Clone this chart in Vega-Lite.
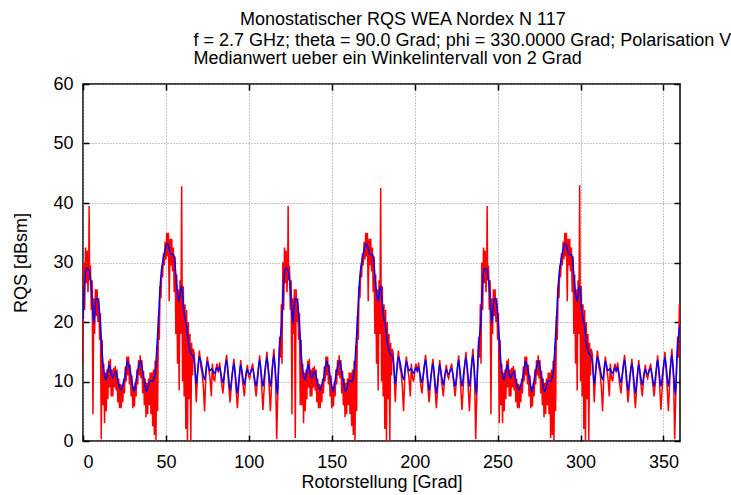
{
  "$schema": "https://vega.github.io/schema/vega-lite/v6.json",
  "width": 597,
  "height": 357,
  "autosize": {"type": "none"},
  "padding": {"left": 83, "top": 84, "right": 51, "bottom": 54},
  "background": "white",
  "config": {
    "view": {"stroke": "black", "strokeWidth": 1.5},
    "font": "Liberation Sans"
  },
  "title": {
    "text": "Monostatischer RQS WEA Nordex  N 117",
    "anchor": "start",
    "align": "left",
    "frame": "group",
    "dx": 157,
    "fontSize": 18,
    "fontWeight": "normal",
    "offset": 2,
    "color": "black",
    "font": "Liberation Sans"
  },
  "datasets": {
    "raw": [
      {"a":0,"v":13},{"a":0.5,"v":30},{"a":1,"v":22},{"a":1.5,"v":32.5},{"a":2,"v":26.5},{"a":2.5,"v":32},{"a":3,"v":25},{"a":3.5,"v":30.5},{"a":3.7,"v":39.5},{"a":4,"v":27},{"a":4.5,"v":29.5},{"a":5,"v":22},{"a":5.5,"v":27},{"a":6,"v":4.5},{"a":6.5,"v":24},{"a":7,"v":18},{"a":7.5,"v":25.5},{"a":8,"v":21},{"a":8.5,"v":25.5},{"a":9,"v":20},{"a":9.5,"v":24},{"a":10,"v":17},{"a":10.5,"v":21.5},{"a":11,"v":0.3},{"a":11.5,"v":17},{"a":12,"v":6},{"a":12.5,"v":13},{"a":13,"v":3},{"a":13.5,"v":11.5},{"a":14,"v":5},{"a":14.5,"v":12},{"a":15,"v":7},{"a":15.5,"v":13.5},{"a":16,"v":9},{"a":16.5,"v":13.8},{"a":17,"v":7.5},{"a":17.5,"v":12},{"a":18,"v":7.5},{"a":18.5,"v":12.3},{"a":19,"v":9},{"a":19.5,"v":12.6},{"a":20,"v":8.5},{"a":20.5,"v":12},{"a":21,"v":6.5},{"a":21.5,"v":10.5},{"a":22,"v":5.5},{"a":22.5,"v":9.6},{"a":23,"v":5.5},{"a":23.5,"v":9.5},{"a":24,"v":6.5},{"a":24.5,"v":10.5},{"a":25,"v":8},{"a":25.5,"v":12.5},{"a":26,"v":10},{"a":26.5,"v":14.2},{"a":27,"v":11},{"a":27.5,"v":14.2},{"a":28,"v":9.5},{"a":28.5,"v":12.8},{"a":29,"v":7.5},{"a":29.5,"v":11},{"a":30,"v":5.5},{"a":30.5,"v":9.2},{"a":31,"v":5.8},{"a":31.5,"v":9.8},{"a":32,"v":7.5},{"a":32.5,"v":12},{"a":33,"v":9.5},{"a":33.5,"v":13.6},{"a":34,"v":11},{"a":34.5,"v":14.4},{"a":35,"v":10.5},{"a":35.5,"v":13.6},{"a":36,"v":8},{"a":36.5,"v":11.8},{"a":37,"v":6},{"a":37.5,"v":10.5},{"a":38,"v":4},{"a":38.5,"v":9.8},{"a":39,"v":4.5},{"a":39.5,"v":10.5},{"a":40,"v":6},{"a":40.5,"v":11.5},{"a":41,"v":4.5},{"a":41.5,"v":11.5},{"a":42,"v":2.5},{"a":42.5,"v":12},{"a":43,"v":1},{"a":43.5,"v":13.5},{"a":44,"v":0},{"a":44.5,"v":16},{"a":45,"v":5},{"a":45.5,"v":21},{"a":46,"v":17},{"a":46.5,"v":26},{"a":47,"v":24},{"a":47.5,"v":29.5},{"a":48,"v":27.5},{"a":48.5,"v":31.5},{"a":49,"v":29.5},{"a":49.5,"v":33.5},{"a":50,"v":30.5},{"a":50.5,"v":35},{"a":51,"v":31},{"a":51.5,"v":35},{"a":52,"v":23.5},{"a":52.5,"v":34},{"a":53,"v":29.5},{"a":53.5,"v":34},{"a":54,"v":28.5},{"a":54.5,"v":32.5},{"a":55,"v":25},{"a":55.5,"v":31},{"a":56,"v":18},{"a":56.5,"v":28},{"a":57,"v":13},{"a":57.5,"v":25.5},{"a":58,"v":8.5},{"a":58.5,"v":27},{"a":59,"v":18},{"a":59.5,"v":42.8},{"a":60,"v":10},{"a":60.5,"v":26},{"a":61,"v":7.5},{"a":61.5,"v":23},{"a":62,"v":2},{"a":62.5,"v":22},{"a":63,"v":0},{"a":63.5,"v":20},{"a":64,"v":7},{"a":64.5,"v":18},{"a":65,"v":0},{"a":65.5,"v":16.5},{"a":66,"v":11},{"a":66.5,"v":15.5},{"a":67.1,"v":14.6},{"a":67.7,"v":11},{"a":68.3,"v":6.5},{"a":69.2,"v":12},{"a":70.2,"v":15.2},{"a":71,"v":12.5},{"a":71.8,"v":11.5},{"a":72.6,"v":9},{"a":73.3,"v":5},{"a":74.2,"v":12},{"a":75,"v":14.2},{"a":75.8,"v":12},{"a":76.5,"v":10.8},{"a":77.4,"v":7.5},{"a":78,"v":13},{"a":78.7,"v":10.5},{"a":79.4,"v":10},{"a":80.1,"v":12},{"a":80.8,"v":13},{"a":81.6,"v":11.5},{"a":82.4,"v":13.2},{"a":83.4,"v":10},{"a":84.4,"v":8},{"a":85.5,"v":12},{"a":86.6,"v":14.5},{"a":87.7,"v":10},{"a":88.7,"v":6.5},{"a":89.9,"v":11},{"a":91,"v":13.8},{"a":92.1,"v":9.5},{"a":93.1,"v":5.5},{"a":94.1,"v":10},{"a":95.1,"v":13.6},{"a":96.2,"v":10},{"a":97.3,"v":7.5},{"a":98.2,"v":11},{"a":99.1,"v":12.8},{"a":99.8,"v":11},{"a":100.5,"v":10.5},{"a":101.4,"v":12},{"a":102.3,"v":13},{"a":103.4,"v":10},{"a":104.4,"v":7.5},{"a":105.5,"v":11},{"a":106.5,"v":14.4},{"a":107.5,"v":10.5},{"a":108.5,"v":5.2},{"a":109.7,"v":11},{"a":110.9,"v":15},{"a":112,"v":10.5},{"a":113,"v":5},{"a":114.1,"v":12},{"a":115.1,"v":15.5},{"a":116.2,"v":10},{"a":116.8,"v":0.3},{"a":117.3,"v":6},{"a":117.9,"v":12},{"a":118.6,"v":17.5},{"a":119.2,"v":14},{"a":119.6,"v":23},
      {"a":120,"v":13},{"a":120.5,"v":30},{"a":121,"v":22},{"a":121.5,"v":32.5},{"a":122,"v":26.5},{"a":122.5,"v":32},{"a":123,"v":25},{"a":123.5,"v":30.5},{"a":123.7,"v":39.5},{"a":124,"v":27},{"a":124.5,"v":29.5},{"a":125,"v":22},{"a":125.5,"v":27},{"a":126,"v":4.5},{"a":126.5,"v":24},{"a":127,"v":18},{"a":127.5,"v":25.5},{"a":128,"v":0.5},{"a":128.5,"v":25.5},{"a":129,"v":20},{"a":129.5,"v":24},{"a":130,"v":17},{"a":130.5,"v":21.5},{"a":131,"v":6},{"a":131.5,"v":17},{"a":132,"v":6},{"a":132.5,"v":13},{"a":133,"v":3},{"a":133.5,"v":11.5},{"a":134,"v":5},{"a":134.5,"v":12},{"a":135,"v":7},{"a":135.5,"v":13.5},{"a":136,"v":9},{"a":136.5,"v":13.8},{"a":137,"v":7.5},{"a":137.5,"v":12},{"a":138,"v":7.5},{"a":138.5,"v":12.3},{"a":139,"v":9},{"a":139.5,"v":12.6},{"a":140,"v":8.5},{"a":140.5,"v":12},{"a":141,"v":6.5},{"a":141.5,"v":10.5},{"a":142,"v":5.5},{"a":142.5,"v":9.6},{"a":143,"v":5.5},{"a":143.5,"v":9.5},{"a":144,"v":6.5},{"a":144.5,"v":10.5},{"a":145,"v":8},{"a":145.5,"v":12.5},{"a":146,"v":10},{"a":146.5,"v":14.2},{"a":147,"v":11},{"a":147.5,"v":14.2},{"a":148,"v":9.5},{"a":148.5,"v":12.8},{"a":149,"v":7.5},{"a":149.5,"v":11},{"a":150,"v":5.5},{"a":150.5,"v":9.2},{"a":151,"v":5.8},{"a":151.5,"v":9.8},{"a":152,"v":7.5},{"a":152.5,"v":12},{"a":153,"v":9.5},{"a":153.5,"v":13.6},{"a":154,"v":11},{"a":154.5,"v":14.4},{"a":155,"v":10.5},{"a":155.5,"v":13.6},{"a":156,"v":8},{"a":156.5,"v":11.8},{"a":157,"v":6},{"a":157.5,"v":10.5},{"a":158,"v":4},{"a":158.5,"v":9.8},{"a":159,"v":4.5},{"a":159.5,"v":10.5},{"a":160,"v":6},{"a":160.5,"v":11.5},{"a":161,"v":4.5},{"a":161.5,"v":11.5},{"a":162,"v":2.5},{"a":162.5,"v":12},{"a":163,"v":1},{"a":163.5,"v":13.5},{"a":164,"v":0},{"a":164.5,"v":16},{"a":165,"v":5},{"a":165.5,"v":21},{"a":166,"v":17},{"a":166.5,"v":26},{"a":167,"v":24},{"a":167.5,"v":29.5},{"a":168,"v":27.5},{"a":168.5,"v":31.5},{"a":169,"v":29.5},{"a":169.5,"v":33.5},{"a":170,"v":30.5},{"a":170.5,"v":35},{"a":171,"v":31},{"a":171.5,"v":35},{"a":172,"v":23.5},{"a":172.5,"v":34},{"a":173,"v":29.5},{"a":173.5,"v":34},{"a":174,"v":28.5},{"a":174.5,"v":32.5},{"a":175,"v":25},{"a":175.5,"v":31},{"a":176,"v":18},{"a":176.5,"v":28},{"a":177,"v":13},{"a":177.5,"v":25.5},{"a":178,"v":8.5},{"a":178.5,"v":27},{"a":179,"v":18},{"a":179.5,"v":42.5},{"a":180,"v":10},{"a":180.5,"v":26},{"a":181,"v":7.5},{"a":181.5,"v":23},{"a":182,"v":2},{"a":182.5,"v":22},{"a":183,"v":0},{"a":183.5,"v":20},{"a":184,"v":7},{"a":184.5,"v":18},{"a":185,"v":0},{"a":185.5,"v":16.5},{"a":186,"v":11},{"a":186.5,"v":15.5},{"a":187.1,"v":14.6},{"a":187.7,"v":11},{"a":188.3,"v":6.5},{"a":189.2,"v":12},{"a":190.2,"v":15.2},{"a":191,"v":12.5},{"a":191.8,"v":11.5},{"a":192.6,"v":9},{"a":193.3,"v":5},{"a":194.2,"v":12},{"a":195,"v":14.2},{"a":195.8,"v":12},{"a":196.5,"v":10.8},{"a":197.4,"v":7.5},{"a":198,"v":13},{"a":198.7,"v":10.5},{"a":199.4,"v":10},{"a":200.1,"v":12},{"a":200.8,"v":13},{"a":201.6,"v":11.5},{"a":202.4,"v":13.2},{"a":203.4,"v":10},{"a":204.4,"v":8},{"a":205.5,"v":12},{"a":206.6,"v":14.5},{"a":207.7,"v":10},{"a":208.7,"v":6.5},{"a":209.9,"v":11},{"a":211,"v":13.8},{"a":212.1,"v":9.5},{"a":213.1,"v":5.5},{"a":214.1,"v":10},{"a":215.1,"v":13.6},{"a":216.2,"v":10},{"a":217.3,"v":7.5},{"a":218.2,"v":11},{"a":219.1,"v":12.8},{"a":219.8,"v":11},{"a":220.5,"v":10.5},{"a":221.4,"v":12},{"a":222.3,"v":13},{"a":223.4,"v":10},{"a":224.4,"v":7.5},{"a":225.5,"v":11},{"a":226.5,"v":14.4},{"a":227.5,"v":10.5},{"a":228.5,"v":5.2},{"a":229.7,"v":11},{"a":230.9,"v":15},{"a":232,"v":10.5},{"a":233,"v":5},{"a":234.1,"v":12},{"a":235.1,"v":15.5},{"a":236.2,"v":10},{"a":236.8,"v":0.3},{"a":237.3,"v":6},{"a":237.9,"v":12},{"a":238.6,"v":17.5},{"a":239.2,"v":14},{"a":239.6,"v":23},
      {"a":240,"v":13},{"a":240.5,"v":30},{"a":241,"v":22},{"a":241.5,"v":32.5},{"a":242,"v":26.5},{"a":242.5,"v":32},{"a":243,"v":25},{"a":243.5,"v":30.5},{"a":243.7,"v":39.5},{"a":244,"v":27},{"a":244.5,"v":29.5},{"a":245,"v":22},{"a":245.5,"v":27},{"a":246,"v":4.5},{"a":246.5,"v":24},{"a":247,"v":18},{"a":247.5,"v":25.5},{"a":248,"v":21},{"a":248.5,"v":25.5},{"a":249,"v":20},{"a":249.5,"v":24},{"a":250,"v":17},{"a":250.5,"v":21.5},{"a":251,"v":3},{"a":251.5,"v":17},{"a":252,"v":6},{"a":252.5,"v":13},{"a":253,"v":3},{"a":253.5,"v":11.5},{"a":254,"v":5},{"a":254.5,"v":12},{"a":255,"v":7},{"a":255.5,"v":13.5},{"a":256,"v":9},{"a":256.5,"v":13.8},{"a":257,"v":7.5},{"a":257.5,"v":12},{"a":258,"v":7.5},{"a":258.5,"v":12.3},{"a":259,"v":9},{"a":259.5,"v":12.6},{"a":260,"v":8.5},{"a":260.5,"v":12},{"a":261,"v":6.5},{"a":261.5,"v":10.5},{"a":262,"v":5.5},{"a":262.5,"v":9.6},{"a":263,"v":5.5},{"a":263.5,"v":9.5},{"a":264,"v":6.5},{"a":264.5,"v":10.5},{"a":265,"v":8},{"a":265.5,"v":12.5},{"a":266,"v":10},{"a":266.5,"v":14.2},{"a":267,"v":11},{"a":267.5,"v":14.2},{"a":268,"v":9.5},{"a":268.5,"v":12.8},{"a":269,"v":7.5},{"a":269.5,"v":11},{"a":270,"v":5.5},{"a":270.5,"v":9.2},{"a":271,"v":5.8},{"a":271.5,"v":9.8},{"a":272,"v":7.5},{"a":272.5,"v":12},{"a":273,"v":9.5},{"a":273.5,"v":13.6},{"a":274,"v":11},{"a":274.5,"v":14.4},{"a":275,"v":10.5},{"a":275.5,"v":13.6},{"a":276,"v":8},{"a":276.5,"v":11.8},{"a":277,"v":6},{"a":277.5,"v":10.5},{"a":278,"v":4},{"a":278.5,"v":9.8},{"a":279,"v":4.5},{"a":279.5,"v":10.5},{"a":280,"v":6},{"a":280.5,"v":11.5},{"a":281,"v":4.5},{"a":281.5,"v":11.5},{"a":282,"v":0.5},{"a":282.5,"v":12},{"a":283,"v":1},{"a":283.5,"v":13.5},{"a":284,"v":0},{"a":284.5,"v":16},{"a":285,"v":5},{"a":285.5,"v":21},{"a":286,"v":17},{"a":286.5,"v":26},{"a":287,"v":24},{"a":287.5,"v":29.5},{"a":288,"v":27.5},{"a":288.5,"v":31.5},{"a":289,"v":29.5},{"a":289.5,"v":33.5},{"a":290,"v":30.5},{"a":290.5,"v":35},{"a":291,"v":31},{"a":291.5,"v":35},{"a":292,"v":23.5},{"a":292.5,"v":34},{"a":293,"v":29.5},{"a":293.5,"v":34},{"a":294,"v":28.5},{"a":294.5,"v":32.5},{"a":295,"v":25},{"a":295.5,"v":31},{"a":296,"v":18},{"a":296.5,"v":28},{"a":297,"v":13},{"a":297.5,"v":25.5},{"a":298,"v":8.5},{"a":298.5,"v":27},{"a":299,"v":18},{"a":299.5,"v":43},{"a":300,"v":10},{"a":300.5,"v":26},{"a":301,"v":7.5},{"a":301.5,"v":23},{"a":302,"v":2},{"a":302.5,"v":22},{"a":303,"v":0},{"a":303.5,"v":20},{"a":304,"v":7},{"a":304.5,"v":18},{"a":305,"v":0},{"a":305.5,"v":16.5},{"a":306,"v":11},{"a":306.5,"v":15.5},{"a":307.1,"v":14.6},{"a":307.7,"v":11},{"a":308.3,"v":6.5},{"a":309.2,"v":12},{"a":310.2,"v":15.2},{"a":311,"v":12.5},{"a":311.8,"v":11.5},{"a":312.6,"v":9},{"a":313.3,"v":5},{"a":314.2,"v":12},{"a":315,"v":14.2},{"a":315.8,"v":12},{"a":316.5,"v":10.8},{"a":317.4,"v":7.5},{"a":318,"v":13},{"a":318.7,"v":10.5},{"a":319.4,"v":10},{"a":320.1,"v":12},{"a":320.8,"v":13},{"a":321.6,"v":11.5},{"a":322.4,"v":13.2},{"a":323.4,"v":10},{"a":324.4,"v":8},{"a":325.5,"v":12},{"a":326.6,"v":14.5},{"a":327.7,"v":10},{"a":328.7,"v":6.5},{"a":329.9,"v":11},{"a":331,"v":13.8},{"a":332.1,"v":9.5},{"a":333.1,"v":5.5},{"a":334.1,"v":10},{"a":335.1,"v":13.6},{"a":336.2,"v":10},{"a":337.3,"v":7.5},{"a":338.2,"v":11},{"a":339.1,"v":12.8},{"a":339.8,"v":11},{"a":340.5,"v":10.5},{"a":341.4,"v":12},{"a":342.3,"v":13},{"a":343.4,"v":10},{"a":344.4,"v":7.5},{"a":345.5,"v":11},{"a":346.5,"v":14.4},{"a":347.5,"v":10.5},{"a":348.5,"v":5.2},{"a":349.7,"v":11},{"a":350.9,"v":15},{"a":352,"v":10.5},{"a":353,"v":5},{"a":354.1,"v":12},{"a":355.1,"v":15.5},{"a":356.2,"v":10},{"a":356.8,"v":0.3},{"a":357.3,"v":6},{"a":357.9,"v":12},{"a":358.6,"v":17.5},{"a":359.2,"v":14},{"a":359.6,"v":23},{"a":360,"v":19}
    ],
    "median": [
      {"a":0,"v":20.5},{"a":0.5,"v":24},{"a":1,"v":26.5},{"a":1.5,"v":28.2},{"a":2.2,"v":29},{"a":3,"v":29},{"a":3.8,"v":28.6},{"a":4.5,"v":27.2},{"a":5.2,"v":25.2},{"a":5.9,"v":22},{"a":6.6,"v":19.8},{"a":7.2,"v":22},{"a":7.8,"v":23.7},{"a":8.6,"v":24},{"a":9.5,"v":23},{"a":10.3,"v":20.5},{"a":11.3,"v":16},{"a":12.2,"v":12.5},{"a":13,"v":11},{"a":13.9,"v":10.3},{"a":14.9,"v":11.6},{"a":15.9,"v":12.8},{"a":16.9,"v":11.4},{"a":17.9,"v":10.6},{"a":18.9,"v":11.3},{"a":19.9,"v":11.7},{"a":20.6,"v":10.8},{"a":21.3,"v":9.7},{"a":22.2,"v":9},{"a":23.1,"v":8.6},{"a":24.2,"v":9.6},{"a":25.3,"v":10.8},{"a":26.1,"v":12.4},{"a":26.9,"v":13.4},{"a":27.8,"v":12.6},{"a":28.7,"v":11.4},{"a":29.8,"v":9.5},{"a":30.8,"v":8.3},{"a":31.8,"v":9.8},{"a":32.8,"v":11.4},{"a":33.8,"v":12.8},{"a":34.8,"v":13.4},{"a":35.8,"v":12},{"a":36.8,"v":10.3},{"a":37.6,"v":8.9},{"a":38.4,"v":8.3},{"a":39.4,"v":9.2},{"a":40.4,"v":10.1},{"a":41.4,"v":10.1},{"a":42.2,"v":10},{"a":43,"v":10.8},{"a":43.8,"v":12.2},{"a":44.6,"v":16},{"a":45.4,"v":19.8},{"a":46.4,"v":25.5},{"a":47.4,"v":28.8},{"a":48.4,"v":30.6},{"a":49.5,"v":32.2},{"a":50.8,"v":33.2},{"a":51.8,"v":32.6},{"a":52.9,"v":31.4},{"a":54.5,"v":31.3},{"a":55.3,"v":30.4},{"a":56.1,"v":27.5},{"a":56.9,"v":25},{"a":57.9,"v":23.5},{"a":58.7,"v":25},{"a":59.5,"v":26.1},{"a":60.5,"v":22.8},{"a":61.5,"v":20.6},{"a":62.5,"v":19.2},{"a":63.5,"v":16.6},{"a":64.5,"v":15.2},{"a":65.5,"v":14.5},{"a":66.3,"v":14.3},{"a":67.1,"v":13.4},{"a":67.7,"v":11.4},{"a":68.3,"v":9.6},{"a":69.2,"v":11.8},{"a":70.2,"v":14.1},{"a":71,"v":13.5},{"a":71.8,"v":12.3},{"a":72.6,"v":11},{"a":73.4,"v":10.3},{"a":74.2,"v":11.8},{"a":75,"v":13.4},{"a":75.8,"v":12.6},{"a":76.5,"v":11.8},{"a":77.2,"v":12},{"a":77.8,"v":12.2},{"a":78.6,"v":11.6},{"a":79.4,"v":11.4},{"a":80.1,"v":11.9},{"a":80.8,"v":12.3},{"a":81.6,"v":11.8},{"a":82.4,"v":12.4},{"a":83.4,"v":11},{"a":84.4,"v":9.8},{"a":85.5,"v":11.8},{"a":86.6,"v":13.6},{"a":87.7,"v":11},{"a":88.7,"v":8.5},{"a":89.9,"v":11},{"a":91,"v":13},{"a":92.1,"v":10.5},{"a":93.1,"v":8},{"a":94.1,"v":10.6},{"a":95.1,"v":12.8},{"a":96.2,"v":11},{"a":97.3,"v":9.4},{"a":98.2,"v":11},{"a":99.1,"v":12},{"a":99.8,"v":11.5},{"a":100.5,"v":11.2},{"a":101.4,"v":11.8},{"a":102.3,"v":12.2},{"a":103.4,"v":10.6},{"a":104.4,"v":9.2},{"a":105.5,"v":11.6},{"a":106.5,"v":13.6},{"a":107.5,"v":11.4},{"a":108.5,"v":9.2},{"a":109.7,"v":11.8},{"a":110.9,"v":14},{"a":112,"v":11.6},{"a":113,"v":9.2},{"a":114.1,"v":12},{"a":115.1,"v":14.4},{"a":116.2,"v":11},{"a":117.2,"v":7.8},{"a":117.9,"v":12},{"a":118.6,"v":16},{"a":119.3,"v":18.2},
      {"a":120,"v":20.5},{"a":120.5,"v":24},{"a":121,"v":26.5},{"a":121.5,"v":28.2},{"a":122.2,"v":29},{"a":123,"v":29},{"a":123.8,"v":28.6},{"a":124.5,"v":27.2},{"a":125.2,"v":25.2},{"a":125.9,"v":22},{"a":126.6,"v":19.8},{"a":127.2,"v":22},{"a":127.8,"v":23.7},{"a":128.6,"v":24},{"a":129.5,"v":23},{"a":130.3,"v":20.5},{"a":131.3,"v":16},{"a":132.2,"v":12.5},{"a":133,"v":11},{"a":133.9,"v":10.3},{"a":134.9,"v":11.6},{"a":135.9,"v":12.8},{"a":136.9,"v":11.4},{"a":137.9,"v":10.6},{"a":138.9,"v":11.3},{"a":139.9,"v":11.7},{"a":140.6,"v":10.8},{"a":141.3,"v":9.7},{"a":142.2,"v":9},{"a":143.1,"v":8.6},{"a":144.2,"v":9.6},{"a":145.3,"v":10.8},{"a":146.1,"v":12.4},{"a":146.9,"v":13.4},{"a":147.8,"v":12.6},{"a":148.7,"v":11.4},{"a":149.8,"v":9.5},{"a":150.8,"v":8.3},{"a":151.8,"v":9.8},{"a":152.8,"v":11.4},{"a":153.8,"v":12.8},{"a":154.8,"v":13.4},{"a":155.8,"v":12},{"a":156.8,"v":10.3},{"a":157.6,"v":8.9},{"a":158.4,"v":8.3},{"a":159.4,"v":9.2},{"a":160.4,"v":10.1},{"a":161.4,"v":10.1},{"a":162.2,"v":10},{"a":163,"v":10.8},{"a":163.8,"v":12.2},{"a":164.6,"v":16},{"a":165.4,"v":19.8},{"a":166.4,"v":25.5},{"a":167.4,"v":28.8},{"a":168.4,"v":30.6},{"a":169.5,"v":32.2},{"a":170.8,"v":33.2},{"a":171.8,"v":32.6},{"a":172.9,"v":31.4},{"a":174.5,"v":31.3},{"a":175.3,"v":30.4},{"a":176.1,"v":27.5},{"a":176.9,"v":25},{"a":177.9,"v":23.5},{"a":178.7,"v":25},{"a":179.5,"v":26.1},{"a":180.5,"v":22.8},{"a":181.5,"v":20.6},{"a":182.5,"v":19.2},{"a":183.5,"v":16.6},{"a":184.5,"v":15.2},{"a":185.5,"v":14.5},{"a":186.3,"v":14.3},{"a":187.1,"v":13.4},{"a":187.7,"v":11.4},{"a":188.3,"v":9.6},{"a":189.2,"v":11.8},{"a":190.2,"v":14.1},{"a":191,"v":13.5},{"a":191.8,"v":12.3},{"a":192.6,"v":11},{"a":193.4,"v":10.3},{"a":194.2,"v":11.8},{"a":195,"v":13.4},{"a":195.8,"v":12.6},{"a":196.5,"v":11.8},{"a":197.2,"v":12},{"a":197.8,"v":12.2},{"a":198.6,"v":11.6},{"a":199.4,"v":11.4},{"a":200.1,"v":11.9},{"a":200.8,"v":12.3},{"a":201.6,"v":11.8},{"a":202.4,"v":12.4},{"a":203.4,"v":11},{"a":204.4,"v":9.8},{"a":205.5,"v":11.8},{"a":206.6,"v":13.6},{"a":207.7,"v":11},{"a":208.7,"v":8.5},{"a":209.9,"v":11},{"a":211,"v":13},{"a":212.1,"v":10.5},{"a":213.1,"v":8},{"a":214.1,"v":10.6},{"a":215.1,"v":12.8},{"a":216.2,"v":11},{"a":217.3,"v":9.4},{"a":218.2,"v":11},{"a":219.1,"v":12},{"a":219.8,"v":11.5},{"a":220.5,"v":11.2},{"a":221.4,"v":11.8},{"a":222.3,"v":12.2},{"a":223.4,"v":10.6},{"a":224.4,"v":9.2},{"a":225.5,"v":11.6},{"a":226.5,"v":13.6},{"a":227.5,"v":11.4},{"a":228.5,"v":9.2},{"a":229.7,"v":11.8},{"a":230.9,"v":14},{"a":232,"v":11.6},{"a":233,"v":9.2},{"a":234.1,"v":12},{"a":235.1,"v":14.4},{"a":236.2,"v":11},{"a":237.2,"v":7.8},{"a":237.9,"v":12},{"a":238.6,"v":16},{"a":239.3,"v":18.2},
      {"a":240,"v":20.5},{"a":240.5,"v":24},{"a":241,"v":26.5},{"a":241.5,"v":28.2},{"a":242.2,"v":29},{"a":243,"v":29},{"a":243.8,"v":28.6},{"a":244.5,"v":27.2},{"a":245.2,"v":25.2},{"a":245.9,"v":22},{"a":246.6,"v":19.8},{"a":247.2,"v":22},{"a":247.8,"v":23.7},{"a":248.6,"v":24},{"a":249.5,"v":23},{"a":250.3,"v":20.5},{"a":251.3,"v":16},{"a":252.2,"v":12.5},{"a":253,"v":11},{"a":253.9,"v":10.3},{"a":254.9,"v":11.6},{"a":255.9,"v":12.8},{"a":256.9,"v":11.4},{"a":257.9,"v":10.6},{"a":258.9,"v":11.3},{"a":259.9,"v":11.7},{"a":260.6,"v":10.8},{"a":261.3,"v":9.7},{"a":262.2,"v":9},{"a":263.1,"v":8.6},{"a":264.2,"v":9.6},{"a":265.3,"v":10.8},{"a":266.1,"v":12.4},{"a":266.9,"v":13.4},{"a":267.8,"v":12.6},{"a":268.7,"v":11.4},{"a":269.8,"v":9.5},{"a":270.8,"v":8.3},{"a":271.8,"v":9.8},{"a":272.8,"v":11.4},{"a":273.8,"v":12.8},{"a":274.8,"v":13.4},{"a":275.8,"v":12},{"a":276.8,"v":10.3},{"a":277.6,"v":8.9},{"a":278.4,"v":8.3},{"a":279.4,"v":9.2},{"a":280.4,"v":10.1},{"a":281.4,"v":10.1},{"a":282.2,"v":10},{"a":283,"v":10.8},{"a":283.8,"v":12.2},{"a":284.6,"v":16},{"a":285.4,"v":19.8},{"a":286.4,"v":25.5},{"a":287.4,"v":28.8},{"a":288.4,"v":30.6},{"a":289.5,"v":32.2},{"a":290.8,"v":33.2},{"a":291.8,"v":32.6},{"a":292.9,"v":31.4},{"a":294.5,"v":31.3},{"a":295.3,"v":30.4},{"a":296.1,"v":27.5},{"a":296.9,"v":25},{"a":297.9,"v":23.5},{"a":298.7,"v":25},{"a":299.5,"v":26.1},{"a":300.5,"v":22.8},{"a":301.5,"v":20.6},{"a":302.5,"v":19.2},{"a":303.5,"v":16.6},{"a":304.5,"v":15.2},{"a":305.5,"v":14.5},{"a":306.3,"v":14.3},{"a":307.1,"v":13.4},{"a":307.7,"v":11.4},{"a":308.3,"v":9.6},{"a":309.2,"v":11.8},{"a":310.2,"v":14.1},{"a":311,"v":13.5},{"a":311.8,"v":12.3},{"a":312.6,"v":11},{"a":313.4,"v":10.3},{"a":314.2,"v":11.8},{"a":315,"v":13.4},{"a":315.8,"v":12.6},{"a":316.5,"v":11.8},{"a":317.2,"v":12},{"a":317.8,"v":12.2},{"a":318.6,"v":11.6},{"a":319.4,"v":11.4},{"a":320.1,"v":11.9},{"a":320.8,"v":12.3},{"a":321.6,"v":11.8},{"a":322.4,"v":12.4},{"a":323.4,"v":11},{"a":324.4,"v":9.8},{"a":325.5,"v":11.8},{"a":326.6,"v":13.6},{"a":327.7,"v":11},{"a":328.7,"v":8.5},{"a":329.9,"v":11},{"a":331,"v":13},{"a":332.1,"v":10.5},{"a":333.1,"v":8},{"a":334.1,"v":10.6},{"a":335.1,"v":12.8},{"a":336.2,"v":11},{"a":337.3,"v":9.4},{"a":338.2,"v":11},{"a":339.1,"v":12},{"a":339.8,"v":11.5},{"a":340.5,"v":11.2},{"a":341.4,"v":11.8},{"a":342.3,"v":12.2},{"a":343.4,"v":10.6},{"a":344.4,"v":9.2},{"a":345.5,"v":11.6},{"a":346.5,"v":13.6},{"a":347.5,"v":11.4},{"a":348.5,"v":9.2},{"a":349.7,"v":11.8},{"a":350.9,"v":14},{"a":352,"v":11.6},{"a":353,"v":9.2},{"a":354.1,"v":12},{"a":355.1,"v":14.4},{"a":356.2,"v":11},{"a":357.2,"v":7.8},{"a":357.9,"v":12},{"a":358.6,"v":16},{"a":359.3,"v":18.2},{"a":360,"v":19.5}
    ]
  },
  "layer": [
    {
      "data": {"name": "raw"},
      "mark": {"type": "line", "color": "#ff0000", "strokeWidth": 1.5, "clip": true},
      "encoding": {
        "x": {
          "field": "a", "type": "quantitative",
          "scale": {"domain": [0, 360], "nice": false, "zero": false},
          "axis": {
            "orient": "bottom", "values": [0, 50, 100, 150, 200, 250, 300, 350],
            "grid": true, "gridColor": "#8c8c8c", "gridDash": [1, 2], "gridWidth": 1,
            "domain": false, "ticks": true, "tickSize": -6, "tickColor": "black", "tickWidth": 1.5,
            "labelPadding": 18, "labelFontSize": 18, "labelColor": "black", "labelFont": "Liberation Sans",
            "title": "Rotorstellung [Grad]", "titleFontSize": 18, "titleFontWeight": "normal",
            "titleColor": "black", "titleFont": "Liberation Sans", "titlePadding": 2
          }
        },
        "y": {
          "field": "v", "type": "quantitative",
          "scale": {"domain": [0, 60], "nice": false, "zero": false},
          "axis": {
            "orient": "left", "values": [0, 10, 20, 30, 40, 50, 60],
            "grid": true, "gridColor": "#8c8c8c", "gridDash": [1, 2], "gridWidth": 1,
            "domain": false, "ticks": true, "tickSize": -6, "tickColor": "black", "tickWidth": 1.5,
            "labelPadding": 16, "labelFontSize": 18, "labelColor": "black", "labelFont": "Liberation Sans",
            "title": "RQS [dBsm]", "titleFontSize": 18, "titleFontWeight": "normal",
            "titleColor": "black", "titleFont": "Liberation Sans", "titlePadding": 22
          }
        }
      }
    },
    {
      "data": {"name": "median"},
      "mark": {"type": "line", "color": "#0000ff", "strokeWidth": 1.5, "interpolate": "monotone", "clip": true},
      "encoding": {
        "x": {
          "field": "a", "type": "quantitative",
          "axis": {
            "orient": "top", "values": [0, 50, 100, 150, 200, 250, 300, 350],
            "grid": false, "domain": false, "labels": false,
            "ticks": true, "tickSize": -6, "tickColor": "black", "tickWidth": 1.5,
            "title": ["f = 2.7 GHz; theta = 90.0 Grad; phi = 330.0000 Grad; Polarisation VV", "Medianwert ueber ein Winkelintervall von 2 Grad"],
            "titleFontSize": 18, "titleFontWeight": "normal", "titleColor": "black", "titleFont": "Liberation Sans",
            "titleAlign": "left", "titleAnchor": "start", "titleBaseline": "alphabetic",
            "titleX": 110, "titleY": -39, "titleLineHeight": 18.5
          }
        },
        "y": {
          "field": "v", "type": "quantitative",
          "axis": {
            "orient": "right", "values": [0, 10, 20, 30, 40, 50, 60],
            "grid": false, "domain": false, "labels": false, "title": null,
            "ticks": true, "tickSize": -6, "tickColor": "black", "tickWidth": 1.5
          }
        }
      }
    }
  ],
  "resolve": {"axis": {"x": "independent", "y": "independent"}}
}
